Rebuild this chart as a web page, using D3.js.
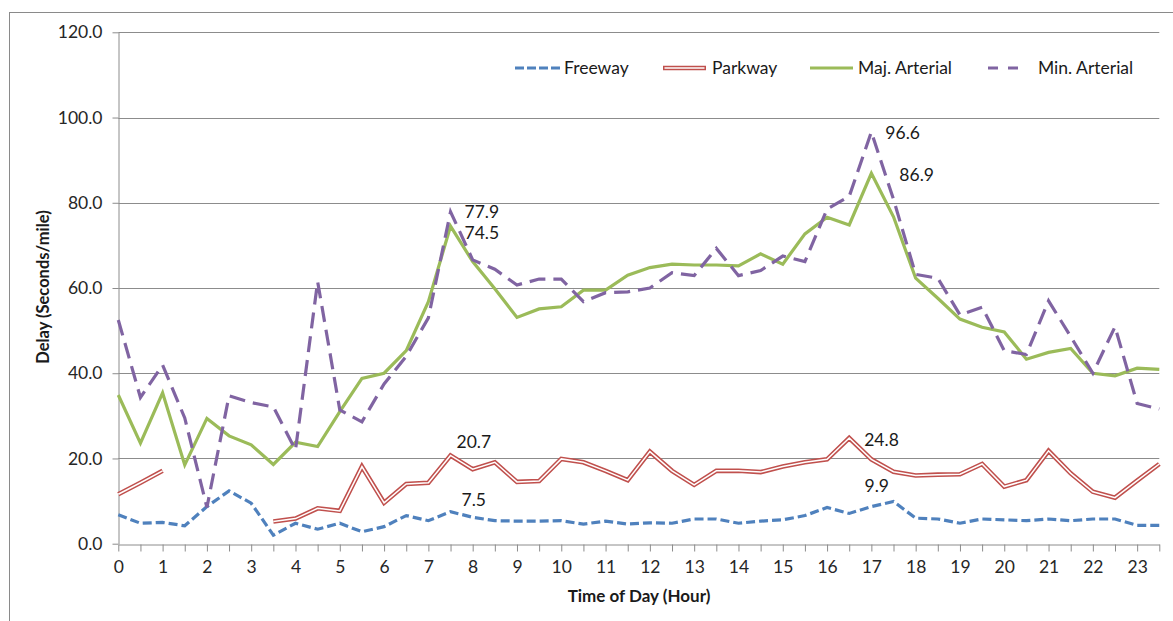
<!DOCTYPE html>
<html>
<head>
<meta charset="utf-8">
<script src="https://cdn.jsdelivr.net/npm/d3@7"></script>
<style>
  html, body { margin: 0; padding: 0; background: #fff; }
  svg { display: block; font-family: Lato, "Open Sans", sans-serif; }
</style>
</head>
<body>
<svg id="chart" width="1173" height="621"></svg>
<script>
// ---- data ----
const hours = [0, 0.5, 1, 1.5, 2, 2.5, 3, 3.5, 4, 4.5, 5, 5.5, 6, 6.5, 7, 7.5, 8, 8.5, 9, 9.5,
  10, 10.5, 11, 11.5, 12, 12.5, 13, 13.5, 14, 14.5, 15, 15.5, 16, 16.5, 17, 17.5, 18, 18.5, 19, 19.5,
  20, 20.5, 21, 21.5, 22, 22.5, 23, 23.5];
const hourLabels = ["0","1","2","3","4","5","6","7","8","9","10","11","12","13","14","15","16","17","18","19","20","21","22","23"];
const yTicks = [0, 20, 40, 60, 80, 100, 120];
const seriesNames = ["Freeway", "Parkway", "Maj. Arterial", "Min. Arterial"];

const freeway = [6.8, 4.8, 5.0, 4.2, 8.7, 12.4, 9.5, 2.0, 4.8, 3.4, 4.8, 2.8, 4.0, 6.6, 5.4, 7.5,
  6.2, 5.4, 5.3, 5.3, 5.4, 4.6, 5.3, 4.6, 4.9, 4.8, 5.8, 5.8, 4.8, 5.3, 5.6, 6.6, 8.5, 7.1, 8.7, 9.9,
  6.0, 5.8, 4.8, 5.8, 5.6, 5.4, 5.8, 5.4, 5.8, 5.8, 4.3, 4.3];
const parkway = [11.6, 14.3, 17.1, null, null, null, null, 5.2, 5.9, 8.3, 7.7, 18.1, 9.6, 14.0, 14.3, 20.7,
  17.5, 19.1, 14.5, 14.7, 19.9, 19.1, 17.1, 14.9, 21.6, 17.1, 13.8, 17.1, 17.1, 16.8, 18.1, 19.1, 19.8, 24.8,
  19.8, 16.9, 16.0, 16.2, 16.3, 18.7, 13.4, 14.9, 21.8, 16.5, 12.2, 10.8, 14.8, 18.7];
const majArterial = [34.9, 23.6, 35.4, 18.5, 29.4, 25.3, 23.2, 18.6, 23.8, 22.8, 31.0, 38.8, 40.0, 45.3, 56.8, 74.5,
  66.2, 59.8, 53.1, 55.1, 55.6, 59.5, 59.5, 63.0, 64.8, 65.6, 65.4, 65.4, 65.2, 68.0, 65.6, 72.7, 76.6, 74.8, 86.9, 76.7,
  62.3, 57.6, 52.7, 50.8, 49.7, 43.3, 44.9, 45.8, 40.0, 39.4, 41.2, 40.9];
const minArterial = [52.5, 34.3, 41.9, 29.5, 8.5, 34.7, 33.1, 32.1, 22.0, 61.5, 31.4, 28.6, 37.5, 44.0, 53.0, 77.9,
  66.6, 64.4, 60.7, 62.1, 62.1, 56.8, 58.9, 59.1, 60.0, 63.6, 62.9, 69.3, 62.9, 64.1, 67.5, 66.2, 78.5, 81.5, 96.6, 80.8,
  63.2, 62.3, 53.7, 55.5, 45.3, 44.4, 57.0, 48.6, 40.0, 50.9, 32.9, 31.6];

// labelled points: [series index, point index]
const labelled = [[3, 15], [2, 15], [1, 15], [0, 15], [3, 34], [2, 34], [1, 33], [0, 35]];

// ---- layout / style ----
const X0 = 118.3, X1 = 1159.3, Y0 = 543.7, Y1 = 32.3;
const colors = ["#4F81BD", "#C0504D", "#9BBB59", "#8064A2"];
const gridColor = "#8c8c8c";
const fontSize = 17.5;
const labelOffsets = [[14, 0], [14, 7], [6, -14], [11, -12], [14, 1], [28, 2], [15, 2], [-29, -16]];

const svg = d3.select("#chart");
const x = d3.scaleLinear().domain([hours[0], hours[hours.length - 1]]).range([X0, X1]);
const y = d3.scaleLinear().domain([0, 120]).range([Y0, Y1]);

// outer chart frame (extends past right/bottom edge)
svg.append("rect").attr("x", 9.5).attr("y", 12.5).attr("width", 1300).attr("height", 700)
  .attr("fill", "none").attr("stroke", "#8a8a8a").attr("stroke-width", 1);

// gridlines
svg.append("g").selectAll("line").data(yTicks.slice(1)).join("line")
  .attr("x1", X0).attr("x2", X1)
  .attr("y1", d => Math.round(y(d)) + 0.5).attr("y2", d => Math.round(y(d)) + 0.5)
  .attr("stroke", gridColor).attr("stroke-width", 1);

// y axis
const yAxis = svg.append("g").attr("transform", `translate(${Math.round(X0) + 0.5},0)`)
  .call(d3.axisLeft(y).tickValues(yTicks).tickFormat(d3.format(".1f")).tickSize(6).tickPadding(10).tickSizeOuter(0));
yAxis.select(".domain").attr("stroke", gridColor);
yAxis.selectAll(".tick line").attr("stroke", gridColor);
yAxis.selectAll(".tick text").attr("font-size", fontSize).attr("font-family", "Lato").attr("fill", "#262626");

// x axis
const xAxis = svg.append("g").attr("transform", `translate(0,${Math.round(Y0) + 0.5})`)
  .call(d3.axisBottom(x).tickValues(hours)
    .tickFormat(d => Number.isInteger(d) ? hourLabels[d] : "")
    .tickSize(7).tickPadding(9).tickSizeOuter(0));
xAxis.select(".domain").attr("stroke", gridColor);
xAxis.selectAll(".tick line").attr("stroke", gridColor);
xAxis.selectAll(".tick text").attr("font-size", fontSize).attr("font-family", "Lato").attr("fill", "#262626");

// axis titles
svg.append("text").attr("x", 639).attr("y", 602).attr("text-anchor", "middle")
  .attr("font-size", 17).attr("font-weight", "bold").attr("fill", "#1a1a1a")
  .text("Time of Day (Hour)");
svg.append("text").attr("transform", "translate(49,287) rotate(-90)").attr("text-anchor", "middle")
  .attr("font-size", 16.5).attr("font-weight", "bold").attr("fill", "#1a1a1a")
  .text("Delay (Seconds/mile)");

// lines
const allSeries = [freeway, parkway, majArterial, minArterial];
const line = d3.line().defined(d => d[1] !== null).x(d => x(d[0])).y(d => y(d[1]));
const pts = s => hours.map((h, i) => [h, s[i]]);

const plot = svg.append("g");
// freeway: short dashes
plot.append("path").datum(pts(freeway)).attr("d", line).attr("fill", "none")
  .attr("stroke", colors[0]).attr("stroke-width", 3.2).attr("stroke-dasharray", "9,4");
// parkway: double line
plot.append("path").datum(pts(parkway)).attr("d", line).attr("fill", "none")
  .attr("stroke", colors[1]).attr("stroke-width", 4.6).attr("stroke-linejoin", "miter");
plot.append("path").datum(pts(parkway)).attr("d", line).attr("fill", "none")
  .attr("stroke", "#fff").attr("stroke-width", 1.5);
// major arterial: solid
plot.append("path").datum(pts(majArterial)).attr("d", line).attr("fill", "none")
  .attr("stroke", colors[2]).attr("stroke-width", 3.2);
// minor arterial: long dashes
plot.append("path").datum(pts(minArterial)).attr("d", line).attr("fill", "none")
  .attr("stroke", colors[3]).attr("stroke-width", 3.2).attr("stroke-dasharray", "16,8");

// data labels
svg.append("g").selectAll("text").data(labelled).join("text")
  .attr("x", (d, k) => x(hours[d[1]]) + labelOffsets[k][0])
  .attr("y", (d, k) => y(allSeries[d[0]][d[1]]) + labelOffsets[k][1])
  .attr("dy", "0.35em")
  .attr("font-size", fontSize).attr("fill", "#1a1a1a")
  .text(d => d3.format(".1f")(allSeries[d[0]][d[1]]));

// legend
const legendItems = [
  {x1: 515, x2: 560, tx: 564},
  {x1: 663, x2: 706, tx: 712},
  {x1: 810, x2: 853, tx: 858},
  {x1: 988, x2: 1026, tx: 1038}
];
const ly = 68;
const lg = svg.append("g");
legendItems.forEach((it, i) => {
  if (i === 1) {
    lg.append("line").attr("x1", it.x1).attr("x2", it.x2).attr("y1", ly).attr("y2", ly)
      .attr("stroke", colors[1]).attr("stroke-width", 4.6);
    lg.append("line").attr("x1", it.x1 + 1.5).attr("x2", it.x2 - 1.5).attr("y1", ly).attr("y2", ly)
      .attr("stroke", "#fff").attr("stroke-width", 1.5);
  } else {
    lg.append("line").attr("x1", it.x1).attr("x2", it.x2).attr("y1", ly).attr("y2", ly)
      .attr("stroke", colors[i]).attr("stroke-width", 3.2)
      .attr("stroke-dasharray", i === 0 ? "9,3" : (i === 3 ? "10,10" : null));
  }
  lg.append("text").attr("x", it.tx).attr("y", ly).attr("dy", "0.35em")
    .attr("font-size", fontSize).attr("fill", "#1a1a1a").text(seriesNames[i]);
});
</script>
</body>
</html>
